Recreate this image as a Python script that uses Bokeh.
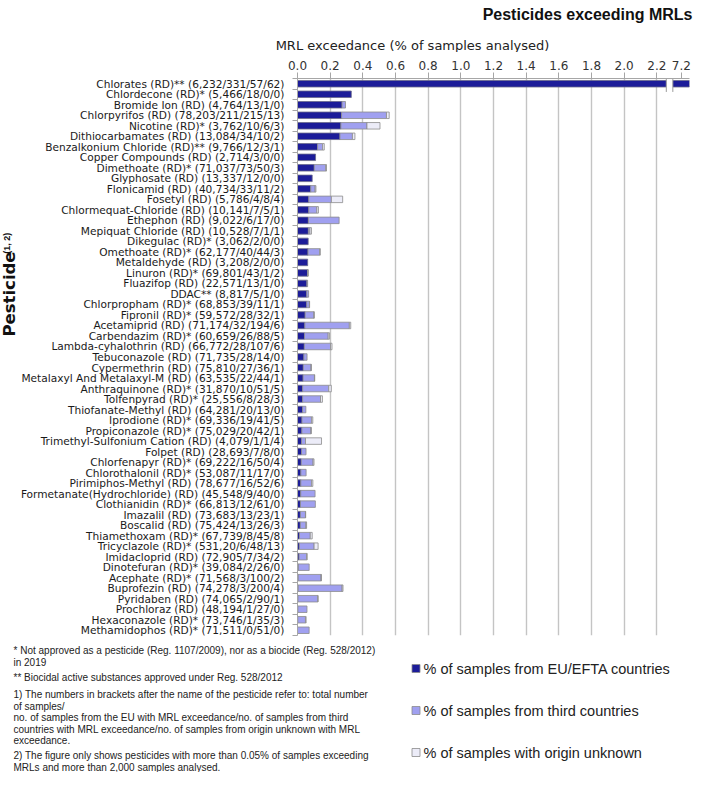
import math
import json
from bokeh.plotting import figure
from bokeh.layouts import column, row
from bokeh.models import Range1d, FixedTicker, CustomJSTickFormatter, ColumnDataSource
from bokeh.core.properties import value
from bokeh.embed import file_html
from bokeh.resources import INLINE

# ---------------- data ----------------
names = [
    "Chlorates (RD)**", "Chlordecone (RD)*", "Bromide Ion (RD)", "Chlorpyrifos (RD)",
    "Nicotine (RD)*", "Dithiocarbamates (RD)", "Benzalkonium Chloride (RD)**",
    "Copper Compounds (RD)", "Dimethoate (RD)*", "Glyphosate (RD)", "Flonicamid (RD)",
    "Fosetyl (RD)", "Chlormequat-Chloride (RD)", "Ethephon (RD)", "Mepiquat Chloride (RD)",
    "Dikegulac (RD)*", "Omethoate (RD)*", "Metaldehyde (RD)", "Linuron (RD)*",
    "Fluazifop (RD)", "DDAC**", "Chlorpropham (RD)*", "Fipronil (RD)*", "Acetamiprid (RD)",
    "Carbendazim (RD)*", "Lambda-cyhalothrin (RD)", "Tebuconazole (RD)", "Cypermethrin (RD)",
    "Metalaxyl And Metalaxyl-M (RD)", "Anthraquinone (RD)*", "Tolfenpyrad (RD)*",
    "Thiofanate-Methyl (RD)", "Iprodione (RD)*", "Propiconazole (RD)*",
    "Trimethyl-Sulfonium Cation (RD)", "Folpet (RD)", "Chlorfenapyr (RD)*",
    "Chlorothalonil (RD)*", "Pirimiphos-Methyl (RD)", "Formetanate(Hydrochloride) (RD)",
    "Clothianidin (RD)*", "Imazalil (RD)", "Boscalid (RD)", "Thiamethoxam (RD)*",
    "Tricyclazole (RD)*", "Imidacloprid (RD)", "Dinotefuran (RD)*", "Acephate (RD)*",
    "Buprofezin (RD)", "Pyridaben (RD)", "Prochloraz (RD)", "Hexaconazole (RD)*",
    "Methamidophos (RD)*",
]
total_text = [
    "6,232", "5,466", "4,764", "78,203", "3,762", "13,084", "9,766", "2,714", "71,037",
    "13,337", "40,734", "5,786", "10,141", "9,022", "10,528", "3,062", "62,177", "3,208",
    "69,801", "22,571", "8,817", "68,853", "59,572", "71,174", "60,659", "66,772", "71,735",
    "75,810", "63,535", "31,870", "25,556", "64,281", "69,336", "75,029", "4,079", "28,693",
    "69,222", "53,087", "78,677", "45,548", "66,813", "73,683", "75,424", "67,739", "531,20",
    "72,905", "39,084", "71,568", "74,278", "74,065", "48,194", "73,746", "71,511",
]
eu_n = [331, 18, 13, 211, 10, 34, 12, 3, 73, 12, 33, 4, 7, 6, 7, 2, 40, 2, 43, 13, 5, 39,
        28, 32, 26, 28, 28, 27, 22, 10, 8, 20, 19, 20, 1, 7, 16, 11, 16, 9, 12, 13, 13, 8,
        6, 7, 2, 3, 3, 2, 1, 1, 0]
third_n = [57, 0, 1, 215, 6, 10, 3, 0, 50, 0, 11, 8, 5, 17, 1, 0, 44, 0, 1, 1, 1, 11, 32,
           194, 88, 107, 14, 36, 44, 51, 28, 13, 41, 42, 1, 8, 50, 17, 52, 40, 61, 23, 26,
           45, 48, 34, 26, 100, 200, 90, 27, 35, 51]
unknown_n = [62, 0, 0, 13, 3, 2, 1, 0, 3, 0, 2, 4, 1, 0, 1, 0, 3, 0, 2, 0, 0, 1, 1, 6, 5,
             6, 0, 1, 1, 5, 3, 0, 5, 1, 4, 0, 4, 0, 6, 0, 0, 1, 3, 8, 13, 2, 0, 2, 4, 1, 0,
             3, 0]

x_tick_values = [0.0, 0.2, 0.4, 0.6, 0.8, 1.0, 1.2, 1.4, 1.6, 1.8, 2.0, 2.2]
axis_end = 2.4            # right edge of the (broken) axis
axis_end_tick = 2.35      # where the "7.2" label of the broken part sits
axis_end_label = "7.2"    # the broken axis end stands for 7.2 %
series_labels = ["% of samples from EU/EFTA countries",
                 "% of samples from third countries",
                 "% of samples with origin unknown"]
colors = ["#1c1c99", "#a0a0f0", "#ececf8"]

title_text = "Pesticides exceeding MRLs"
xaxis_title = "MRL exceedance (% of samples analysed)"
yaxis_title = "Pesticide"
yaxis_sup = "(1, 2)"
footnotes = [
    "* Not approved as a pesticide (Reg. 1107/2009), nor as a biocide (Reg. 528/2012)",
    "in 2019",
    "** Biocidal active substances approved under Reg. 528/2012",
    "1) The numbers in brackets after the name of the pesticide refer to: total number",
    "of samples/",
    "no. of samples from the EU with MRL exceedance/no. of samples from third",
    "countries with MRL exceedance/no. of samples from origin unknown with MRL",
    "exceedance.",
    "2) The figure only shows pesticides with more than 0.05% of samples exceeding",
    "MRLs and more than 2,000 samples analysed.",
]

# ---------------- derived ----------------
N = len(names)
totals = [int(s.replace(",", "")) for s in total_text]
labels = [f"{n} ({t}/{e}/{th}/{u})" for n, t, e, th, u in
          zip(names, total_text, eu_n, third_n, unknown_n)]


def pct(counts):
    return [c / t * 100.0 for c, t in zip(counts, totals)]


eu_p, th_p, un_p = pct(eu_n), pct(third_n), pct(unknown_n)
cum1 = eu_p
cum2 = [a + b for a, b in zip(eu_p, th_p)]
cum3 = [a + b for a, b in zip(cum2, un_p)]


def clip(v):
    return min(v, axis_end)


src = ColumnDataSource(dict(
    y=list(range(N)),
    eu_l=[0.0] * N, eu_r=[clip(v) for v in cum1],
    th_l=[clip(v) for v in cum1], th_r=[clip(v) for v in cum2],
    un_l=[clip(v) for v in cum2], un_r=[clip(v) for v in cum3],
))
for k in ("eu", "th", "un"):
    src.data[k + "_a"] = [1.0 if r > l else 0.0
                          for l, r in zip(src.data[k + "_l"], src.data[k + "_r"])]

# ---------------- layout geometry (px) ----------------
TOTAL_W, TOTAL_H = 693, 772
TOP_H = 52
YT_W = 17
FL, FR, FT, FB = 280, 4, 26, 2
FRAME_H = 557
MAIN_W = TOTAL_W - YT_W
MAIN_H = FT + FRAME_H + FB
BOT_H = TOTAL_H - TOP_H - MAIN_H
MAIN_BOTTOM = TOP_H + MAIN_H


def canvas(w, h):
    f = figure(width=w, height=h, x_range=Range1d(0, w), y_range=Range1d(0, h),
               toolbar_location=None, output_backend="svg", min_border=0,
               x_axis_type=None, y_axis_type=None,
               background_fill_color="white", border_fill_color="white")
    f.outline_line_color = None
    return f


# ---------------- main chart ----------------
p = figure(width=MAIN_W, height=MAIN_H, x_range=Range1d(0, axis_end),
           y_range=Range1d(N - 0.5, -0.5), x_axis_location="above",
           toolbar_location=None, output_backend="svg",
           min_border_left=FL, min_border_right=FR, min_border_top=FT, min_border_bottom=FB,
           background_fill_color="white", border_fill_color="white")
p.outline_line_color = None

BAR_H = 0.62
r_eu = p.hbar(y="y", left="eu_l", right="eu_r", height=BAR_H, source=src,
              fill_color=colors[0], line_color="#6a6a8a", line_alpha="eu_a", line_width=0.8)
r_th = p.hbar(y="y", left="th_l", right="th_r", height=BAR_H, source=src,
              fill_color=colors[1], line_color="#8c8c8c", line_alpha="th_a", line_width=0.8)
r_un = p.hbar(y="y", left="un_l", right="un_r", height=BAR_H, source=src,
              fill_color=colors[2], line_color="#8c8c8c", line_alpha="un_a", line_width=0.8)

# axis break marker
p.quad(left=[2.258], right=[2.298], top=[-0.5], bottom=[0.78],
       fill_color="white", line_color=None)
p.segment(x0=[2.258, 2.298], x1=[2.258, 2.298], y0=[-0.5, -0.5], y1=[0.78, 0.78],
          line_color="#9a9a9a", line_width=1)

xt = FixedTicker(ticks=x_tick_values + [axis_end_tick], minor_ticks=[])
p.xaxis.ticker = xt
p.xaxis.formatter = CustomJSTickFormatter(
    code=f"return tick > {x_tick_values[-1] + 0.05} ? {json.dumps(axis_end_label)} : tick.toFixed(1);")
p.xaxis.major_label_text_font = "DejaVu Sans"
p.xaxis.major_label_text_font_size = "12px"
p.xaxis.major_label_text_color = "#333333"
p.xaxis.major_tick_out = 6
p.xaxis.major_tick_in = 0
p.xaxis.major_label_standoff = 3
p.xaxis.axis_line_color = "#a6a6a6"
p.xaxis.major_tick_line_color = "#a6a6a6"
p.xaxis.minor_tick_line_color = None

yt = FixedTicker(ticks=list(range(N)), minor_ticks=[k - 0.5 for k in range(N + 1)])
p.yaxis.ticker = yt
p.yaxis.formatter = CustomJSTickFormatter(
    code=f"const labels = {json.dumps(labels)}; return labels[Math.round(tick)] || '';")
p.yaxis.major_tick_out = 0
p.yaxis.major_tick_in = 0
p.yaxis.minor_tick_out = 5
p.yaxis.minor_tick_in = 0
p.yaxis.minor_tick_line_color = "#a6a6a6"
p.yaxis.axis_line_color = "#a6a6a6"
p.yaxis.major_label_standoff = 8
p.yaxis.major_label_text_font = "DejaVu Sans"
p.yaxis.major_label_text_font_size = "10.6px"
p.yaxis.major_label_text_color = "#1a1a1a"

p.xgrid.ticker = FixedTicker(ticks=x_tick_values + [axis_end], minor_ticks=[])
p.xgrid.grid_line_color = "#c4c4c4"
p.xgrid.grid_line_width = 1.4
p.ygrid.visible = False

# ---------------- top: title + axis title ----------------
top = canvas(TOTAL_W, TOP_H)
top.text(x=[692], y=[TOP_H - 14], text=[title_text], text_align="right",
         text_baseline="middle", text_font=value("Liberation Sans"),
         text_font_style="bold", text_font_size=value("16px"), text_color="#111111")
top.text(x=[412], y=[TOP_H - 45], text=[xaxis_title], text_align="center",
         text_baseline="middle", text_font=value("DejaVu Sans"),
         text_font_size=value("13px"), text_color="#222222")

# ---------------- left: rotated axis title ----------------
yt_fig = canvas(YT_W, MAIN_H)
yt_fig.text(x=[8.5], y=[MAIN_BOTTOM - 323], text=[yaxis_title], angle=math.pi / 2,
            text_align="left", text_baseline="middle", text_font=value("DejaVu Sans"),
            text_font_style="bold", text_font_size=value("16.5px"), text_color="#111111")
yt_fig.text(x=[6.0], y=[MAIN_BOTTOM - 236], text=[yaxis_sup], angle=math.pi / 2,
            text_align="left", text_baseline="middle", text_font=value("Liberation Sans"),
            text_font_style="bold", text_font_size=value("9px"), text_color="#111111")

# ---------------- bottom: footnotes + legend ----------------
bot = canvas(TOTAL_W, BOT_H)
foot_y = [650, 661.5, 677, 694, 705.5, 717, 728.5, 740, 755, 766.5]
bot.text(x=[13] * len(footnotes), y=[TOTAL_H - v for v in foot_y], text=footnotes,
         text_align="left", text_baseline="middle", text_font=value("Liberation Sans"),
         text_font_size=value("10px"), text_color="#222222")

leg_y = [668, 710, 752]
bot.rect(x=[415.5] * 3, y=[TOTAL_H - v for v in leg_y], width=8, height=8,
         fill_color=colors, line_color="#8c8c8c", line_width=0.8)
bot.text(x=[423] * 3, y=[TOTAL_H - v for v in leg_y], text=series_labels,
         text_align="left", text_baseline="middle", text_font=value("Liberation Sans"),
         text_font_size=value("14.5px"), text_color="#222222")

layout = column(top, row(yt_fig, p), bot)
open("out.html", "w").write(file_html(layout, INLINE))
